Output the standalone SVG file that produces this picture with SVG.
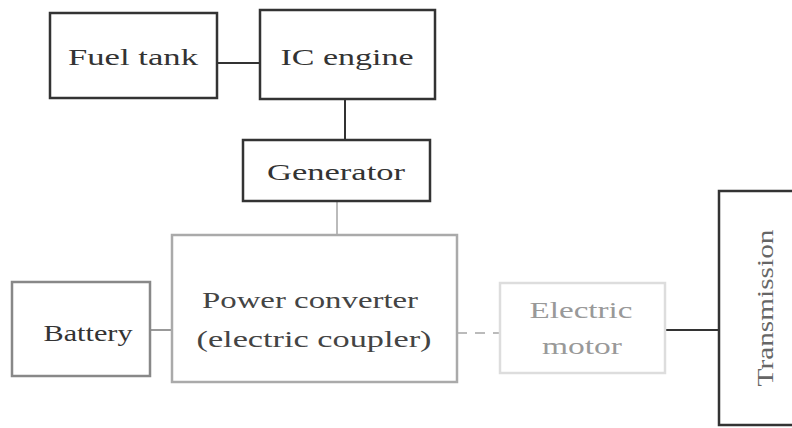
<svg xmlns="http://www.w3.org/2000/svg" width="792" height="428" viewBox="0 0 792 428">
<style>
.box{fill:none;stroke-width:2.5}
.t{font-family:"Liberation Serif","Times New Roman",serif;font-size:24px;text-anchor:middle}
.c{fill:none;stroke-width:2}
</style>
<rect width="792" height="428" fill="#fff"/>
<g id="connectors">
<line class="c" x1="217" y1="63" x2="260" y2="63" stroke="#333"/>
<line class="c" x1="345" y1="99" x2="345" y2="140" stroke="#333"/>
<line class="c" x1="337" y1="201" x2="337" y2="235" stroke="#bbb" stroke-width="1.5"/>
<line class="c" x1="150" y1="330" x2="172" y2="330" stroke="#999" stroke-width="1.5"/>
<line class="c" x1="457" y1="333" x2="500" y2="333" stroke="#bbb" stroke-width="1.5" stroke-dasharray="10,8"/>
<line class="c" x1="665" y1="330" x2="719" y2="330" stroke="#333"/>
</g>
<g id="fuel-tank">
<rect class="box" x="50" y="13" width="167" height="85" stroke="#333"/>
<text class="t" x="133" y="65" fill="#333" textLength="130" lengthAdjust="spacingAndGlyphs">Fuel tank</text>
</g>
<g id="ic-engine">
<rect class="box" x="260" y="10" width="175" height="89" stroke="#333"/>
<text class="t" x="347" y="65" fill="#333" textLength="133" lengthAdjust="spacingAndGlyphs">IC engine</text>
</g>
<g id="generator">
<rect class="box" x="243" y="140" width="187" height="61" stroke="#333"/>
<text class="t" x="336" y="180" fill="#333" textLength="138" lengthAdjust="spacingAndGlyphs">Generator</text>
</g>
<g id="battery">
<rect class="box" x="12" y="282" width="138" height="94" stroke="#888" stroke-width="1.5"/>
<text class="t" x="88" y="341" fill="#333" textLength="89" lengthAdjust="spacingAndGlyphs">Battery</text>
</g>
<g id="power-converter">
<rect class="box" x="172" y="235" width="285" height="147" stroke="#aaa" stroke-width="1.5"/>
<text class="t" x="310" y="308" fill="#444" textLength="216" lengthAdjust="spacingAndGlyphs">Power converter</text>
<text class="t" x="314" y="347" fill="#444" textLength="235" lengthAdjust="spacingAndGlyphs">(electric coupler)</text>
</g>
<g id="electric-motor">
<rect class="box" x="500" y="283" width="165" height="90" stroke="#ddd" stroke-width="1.5"/>
<text class="t" x="581" y="318" fill="#999" textLength="103" lengthAdjust="spacingAndGlyphs">Electric</text>
<text class="t" x="582" y="354" fill="#999" textLength="80" lengthAdjust="spacingAndGlyphs">motor</text>
</g>
<g id="transmission">
<rect class="box" x="719" y="191" width="90" height="234" stroke="#333"/>
<text class="t" transform="translate(773,308) rotate(-90)" x="0" y="0" fill="#666" textLength="157" lengthAdjust="spacingAndGlyphs">Transmission</text>
</g>
</svg>
